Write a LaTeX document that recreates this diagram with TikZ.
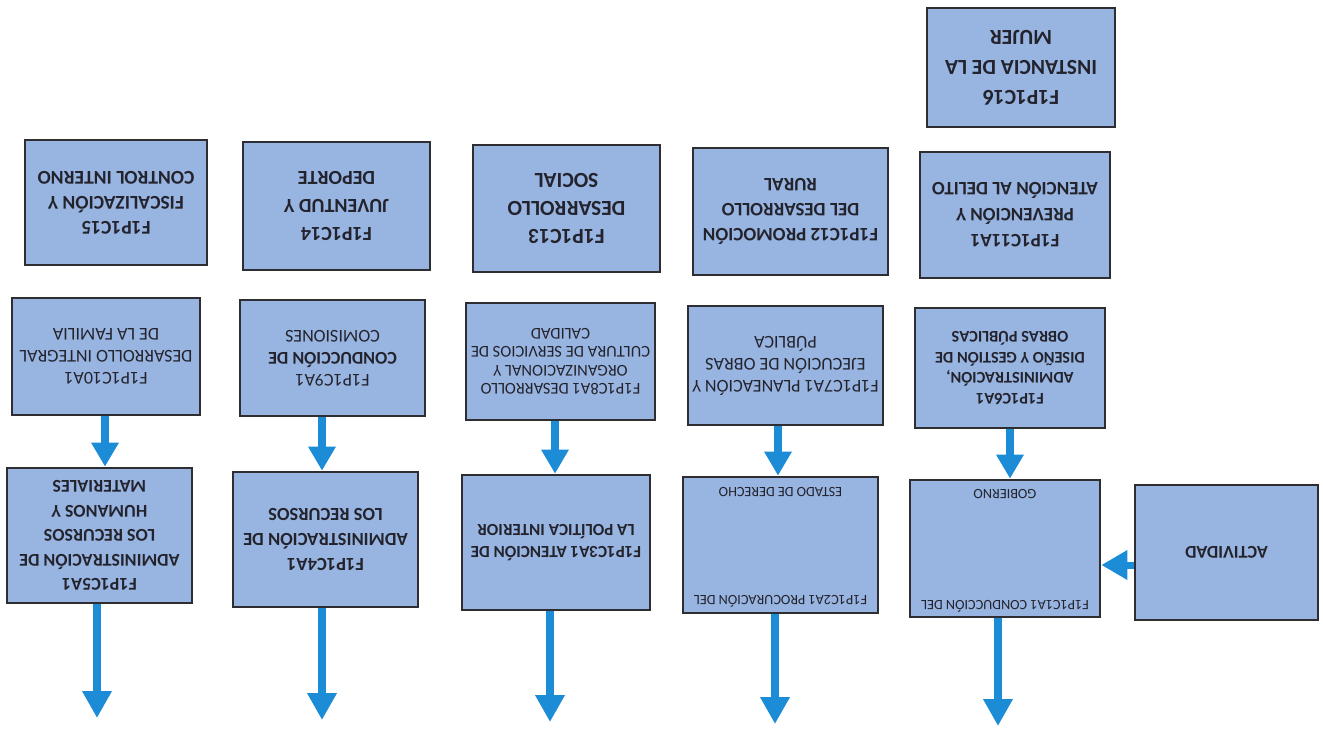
\documentclass[tikz,border=0pt]{standalone}
\usepackage{fontspec}
\setmainfont{Carlito}
\usetikzlibrary{arrows.meta}
\definecolor{boxfill}{RGB}{152,180,224}
\definecolor{boxline}{RGB}{45,45,50}
\definecolor{arrblue}{RGB}{28,140,214}
\definecolor{txtcol}{RGB}{35,35,45}
\tikzset{
  box/.style={draw=boxline, line width=2.6pt, fill=boxfill, inner sep=0pt},
  txt/.style={rotate=180, align=center, text=txtcol, inner sep=0pt},
  arr/.style={draw=arrblue, line width=7.5pt, -{Triangle[length=24pt,width=26pt]}},
  arrlong/.style={draw=arrblue, line width=7.5pt, -{Triangle[length=27pt,width=28pt]}}
}
\newcommand\smallr{\fontsize{14.2}{17}\selectfont}
\begin{document}
\begin{tikzpicture}[x=1pt,y=-1pt]
\useasboundingbox (0,0) rectangle (1323,736);
% row 1
\node[box, minimum width=188pt, minimum height=119pt] (c16) at (1021,67.5) {};
% row 2
\node[box, minimum width=182pt, minimum height=125pt] (c15) at (116,202.5) {};
\node[box, minimum width=187pt, minimum height=128pt] (c14) at (336.5,206) {};
\node[box, minimum width=187pt, minimum height=127pt] (c13) at (566.5,208.5) {};
\node[box, minimum width=195pt, minimum height=127pt] (c12) at (790.5,211.5) {};
\node[box, minimum width=190pt, minimum height=126pt] (c11) at (1015,215) {};
% row 3
\node[box, minimum width=188pt, minimum height=117pt] (c10) at (106,356.5) {};
\node[box, minimum width=185pt, minimum height=116pt] (c9) at (332.5,358) {};
\node[box, minimum width=189pt, minimum height=117pt] (c8) at (560.5,361.5) {};
\node[box, minimum width=195pt, minimum height=119pt] (c7) at (785.5,365.5) {};
\node[box, minimum width=190pt, minimum height=120pt] (c6) at (1010,368) {};
% row 4
\node[box, minimum width=185pt, minimum height=135pt] (c5) at (99.5,535.5) {};
\node[box, minimum width=185pt, minimum height=135pt] (c4) at (325.5,539.5) {};
\node[box, minimum width=188pt, minimum height=135pt] (c3) at (556,542.5) {};
\node[box, minimum width=195pt, minimum height=136pt] (c2) at (780.5,545) {};
\node[box, minimum width=190pt, minimum height=137pt] (c1) at (1005,548.5) {};
\node[box, minimum width=183pt, minimum height=135pt] (act) at (1226.5,552.5) {};
% texts
\node[txt, font=\fontsize{21.5}{30}\selectfont\bfseries] at (c16) {F1P1C16\\INSTANCIA DE LA\\MUJER};
\node[txt, font=\fontsize{19.5}{25}\selectfont\bfseries] at (c15) {F1P1C15\\FISCALIZACIÓN Y\\CONTROL INTERNO};
\node[txt, font=\fontsize{20}{28}\selectfont\bfseries] at (c14) {F1P1C14\\JUVENTUD Y\\DEPORTE};
\node[txt, font=\fontsize{21.5}{28}\selectfont\bfseries] at (c13) {F1P1C13\\DESARROLLO\\SOCIAL};
\node[txt, font=\fontsize{19}{25}\selectfont\bfseries] at (c12) {F1P1C12 PROMOCIÓN\\DEL DESARROLLO\\RURAL};
\node[txt, font=\fontsize{19}{26}\selectfont\bfseries] at (c11) {F1P1C11A1\\PREVENCIÓN Y\\ATENCIÓN AL DELITO};
\node[txt, font=\fontsize{18}{22}\selectfont] at (c10) {F1P1C10A1\\DESARROLLO INTEGRAL\\DE LA FAMILIA};
\node[txt, font=\fontsize{18}{22}\selectfont] at (c9) {F1P1C9A1\\\textbf{CONDUCCIÓN DE}\\COMISIONES};
\node[txt, font=\fontsize{16.5}{18.5}\selectfont] at (c8) {F1P1C8A1 DESARROLLO\\ORGANIZACIONAL Y\\CULTURA DE SERVICIOS DE\\CALIDAD};
\node[txt, font=\fontsize{18}{22}\selectfont] at (c7) {F1P1C7A1 PLANEACIÓN Y\\EJECUCIÓN DE OBRAS\\PÚBLICA};
\node[txt, font=\fontsize{16.3}{20.5}\selectfont\bfseries] at (c6) {F1P1C6A1\\ADMINISTRACIÓN,\\DISEÑO Y GESTIÓN DE\\OBRAS PÚBLICAS};
\node[txt, font=\fontsize{18}{24.5}\selectfont\bfseries] at (c5) {F1P1C5A1\\ADMINISTRACIÓN DE\\LOS RECURSOS\\HUMANOS Y\\MATERIALES};
\node[txt, font=\fontsize{18.5}{25}\selectfont\bfseries] at (c4) {F1P1C4A1\\ADMINISTRACIÓN DE\\LOS RECURSOS};
\node[txt, font=\fontsize{17}{22}\selectfont\bfseries] at (c3) {F1P1C3A1 ATENCIÓN DE\\LA POLÍTICA INTERIOR};
\node[txt, font=\smallr] (c2a) at ([yshift=13pt]c2.south) {F1P1C2A1 PROCURACIÓN DEL};
\node[txt, font=\smallr] (c2b) at ([yshift=-16pt]c2.north) {ESTADO DE DERECHO};
\node[txt, font=\smallr] (c1a) at ([yshift=12pt]c1.south) {F1P1C1A1 CONDUCCIÓN DEL};
\node[txt, font=\smallr] (c1b) at ([yshift=-15pt]c1.north) {GOBIERNO};
\node[txt, font=\fontsize{18}{22}\selectfont\bfseries] at (act) {ACTIVIDAD};
% arrows row 3 -> row 4
\draw[arr] (c10.south -| 105,0) -- (c5.north -| 105,0);
\draw[arr] (c9.south -| 322,0) -- (c4.north -| 322,0);
\draw[arr] (c8.south -| 555,0) -- (c3.north -| 555,0);
\draw[arr] (c7.south -| 778,0) -- (c2.north -| 778,0);
\draw[arr] (c6.south -| 1010,0) -- (c1.north -| 1010,0);
% bottom arrows
\coordinate (e5) at (97,718);
\coordinate (e4) at (322,720);
\coordinate (e3) at (550,722);
\coordinate (e2) at (775,724);
\coordinate (e1) at (998,726);
\draw[arrlong] (c5.south -| e5) -- (e5);
\draw[arrlong] (c4.south -| e4) -- (e4);
\draw[arrlong] (c3.south -| e3) -- (e3);
\draw[arrlong] (c2.south -| e2) -- (e2);
\draw[arrlong] (c1.south -| e1) -- (e1);
% actividad arrow
\draw[draw=arrblue, line width=7pt, -{Triangle[length=26pt,width=28pt]}] (act.west |- 0,565) -- (c1.east |- 0,565);
\end{tikzpicture}
\end{document}
